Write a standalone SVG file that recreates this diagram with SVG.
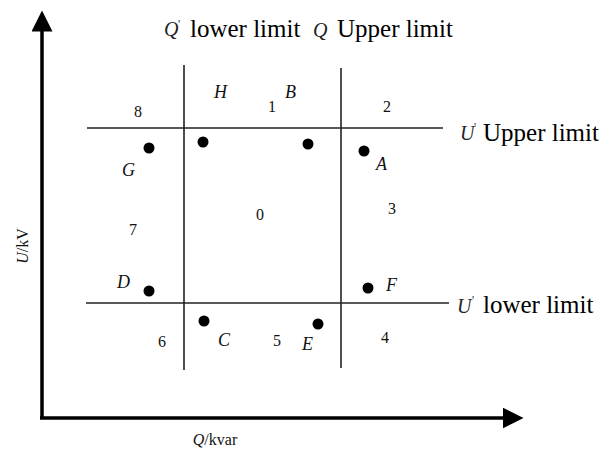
<svg xmlns="http://www.w3.org/2000/svg" width="610" height="457" viewBox="0 0 610 457">
<style>
.ax{stroke:#000;stroke-width:3.5;fill:none}
.ln{stroke:#222;stroke-width:1.6;fill:none}
.lab{font-family:"Liberation Serif","Times New Roman",serif;font-size:25px;fill:#000}
.num{font-family:"Liberation Serif","Times New Roman",serif;font-size:16px;fill:#111}
.it{font-family:"Liberation Serif","Times New Roman",serif;font-size:18px;font-style:italic;fill:#111}
.itb{font-family:"Liberation Serif","Times New Roman",serif;font-size:20px;font-style:italic;fill:#222}
.pr{font-family:"Liberation Serif","Times New Roman",serif;font-size:12px;fill:#333}
.dot{fill:#000}
</style>
<defs>
<marker id="ah" markerWidth="6" markerHeight="6" refX="1" refY="3" orient="auto" markerUnits="strokeWidth">
<path d="M0,0 L6,3 L0,6 Z" fill="#000"/>
</marker>
</defs>
<g id="connectors">
<line class="ax" x1="42" y1="418" x2="42" y2="28" marker-end="url(#ah)"/>
<line class="ax" x1="40" y1="418" x2="506" y2="418" marker-end="url(#ah)"/>
<line class="ln" x1="184" y1="65" x2="184" y2="370"/>
<line class="ln" x1="341" y1="68" x2="341" y2="368"/>
<line class="ln" x1="87" y1="128" x2="443" y2="128"/>
<line class="ln" x1="86" y1="303" x2="449" y2="303"/>
</g>
<g id="points">
<circle class="dot" cx="203" cy="142" r="5.5"/>
<circle class="dot" cx="308" cy="144" r="5.5"/>
<circle class="dot" cx="149" cy="148" r="5.5"/>
<circle class="dot" cx="364" cy="151" r="5.5"/>
<circle class="dot" cx="149" cy="291" r="5.5"/>
<circle class="dot" cx="368" cy="288" r="5.5"/>
<circle class="dot" cx="204" cy="321" r="5.5"/>
<circle class="dot" cx="318" cy="324" r="5.5"/>
</g>
<g id="point-labels">
<text class="it" x="214" y="98">H</text>
<text class="it" x="285" y="98">B</text>
<text class="it" x="122" y="176">G</text>
<text class="it" x="376" y="170">A</text>
<text class="it" x="117" y="288">D</text>
<text class="it" x="386" y="291">F</text>
<text class="it" x="218" y="346">C</text>
<text class="it" x="302" y="350">E</text>
</g>
<g id="region-labels">
<text class="num" x="138" y="117" text-anchor="middle">8</text>
<text class="num" x="272" y="112" text-anchor="middle">1</text>
<text class="num" x="387" y="112" text-anchor="middle">2</text>
<text class="num" x="392" y="214" text-anchor="middle">3</text>
<text class="num" x="260" y="220" text-anchor="middle">0</text>
<text class="num" x="133" y="235" text-anchor="middle">7</text>
<text class="num" x="162" y="347" text-anchor="middle">6</text>
<text class="num" x="277" y="346" text-anchor="middle">5</text>
<text class="num" x="385" y="343" text-anchor="middle">4</text>
</g>
<g id="limit-labels">
<text class="itb" x="164" y="36">Q</text><text class="pr" x="178" y="28">'</text>
<text class="lab" x="190" y="37">lower limit</text>
<text class="itb" x="313" y="37">Q</text>
<text class="lab" x="337" y="37">Upper limit</text>
<text class="itb" x="460" y="140">U</text><text class="pr" x="474" y="131">'</text>
<text class="lab" x="483" y="141">Upper limit</text>
<text class="itb" x="457" y="313">U</text><text class="pr" x="472" y="304">'</text>
<text class="lab" x="483" y="313">lower limit</text>
</g>
<g id="axis-labels">
<text class="num" x="0" y="0" transform="translate(28,246) rotate(-90)" text-anchor="middle"><tspan font-style="italic">U</tspan>/kV</text>
<text class="num" x="215" y="445" text-anchor="middle"><tspan font-style="italic">Q</tspan>/kvar</text>
</g>
</svg>
